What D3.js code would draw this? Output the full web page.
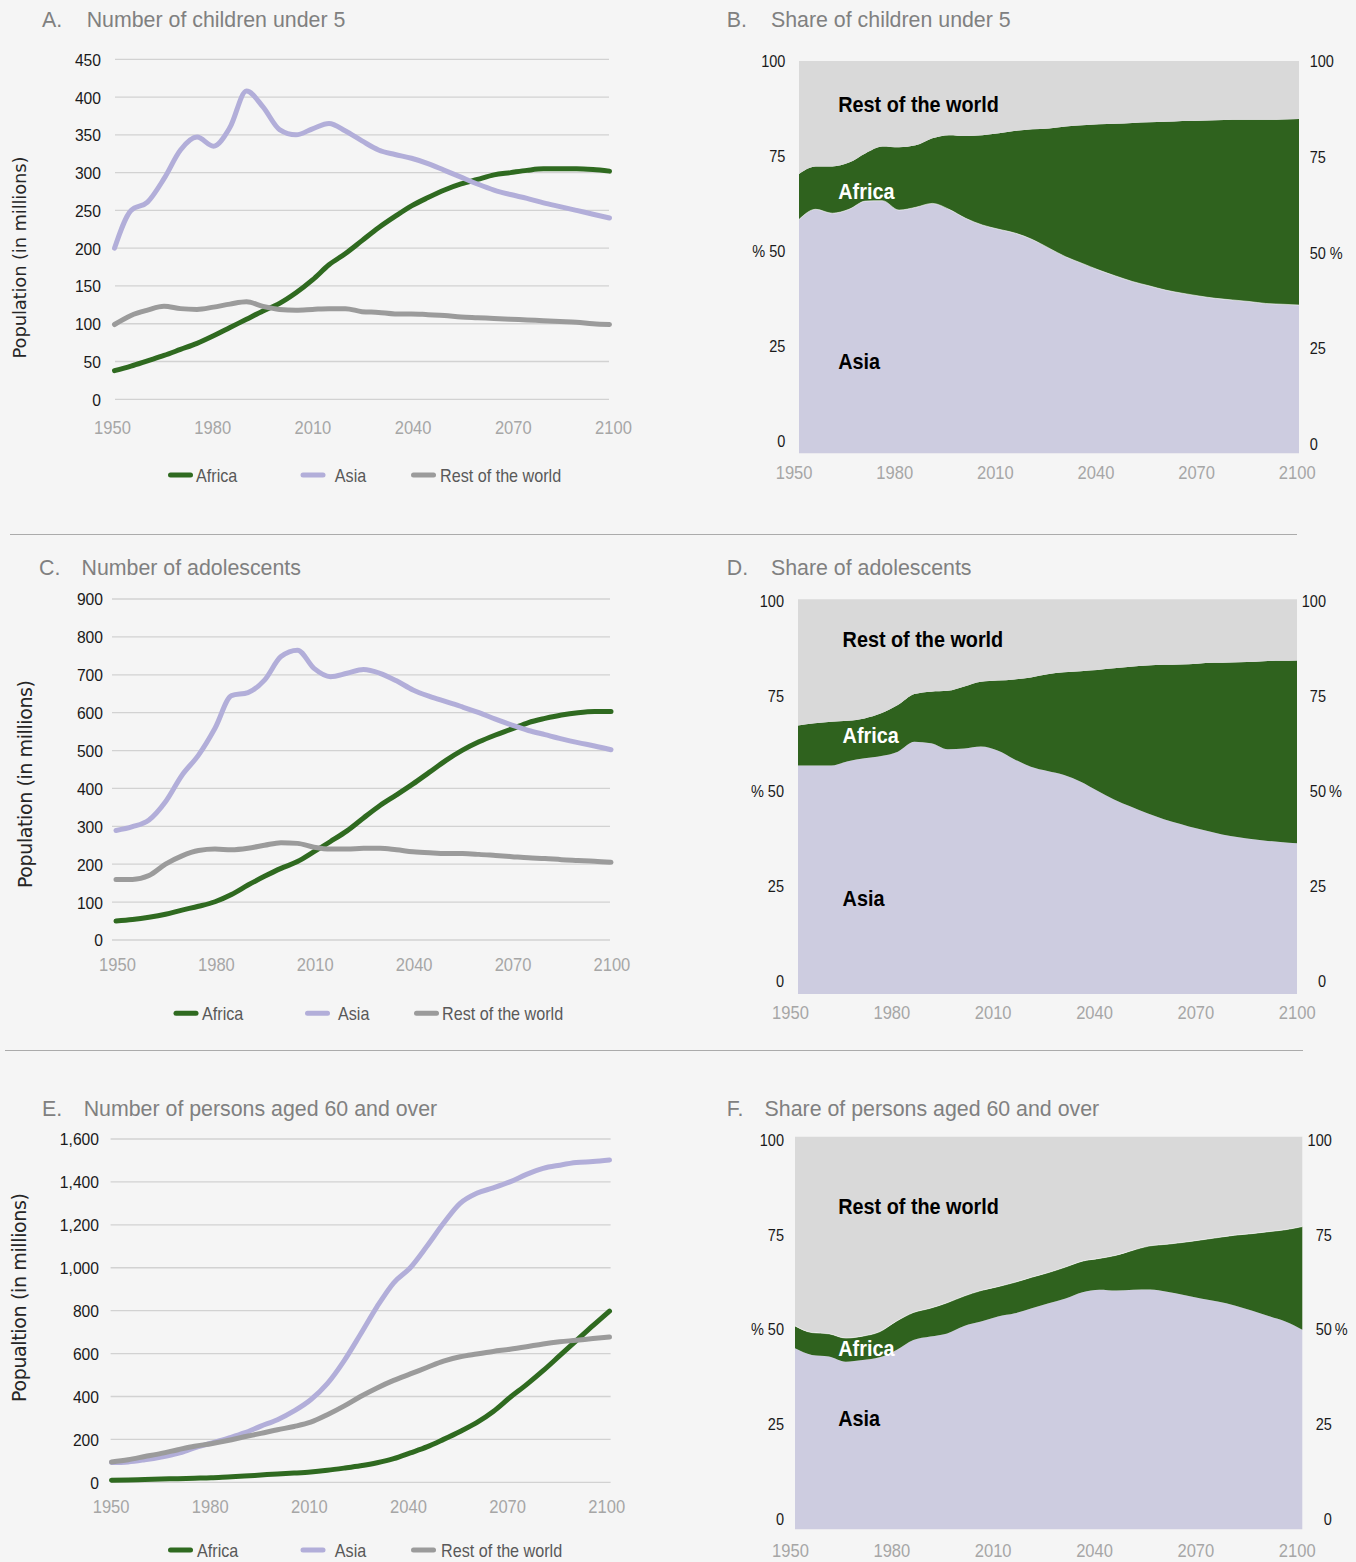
<!DOCTYPE html>
<html><head><meta charset="utf-8">
<script src="https://cdn.jsdelivr.net/npm/d3@7"></script>
<style>
html,body{margin:0;padding:0;background:#f5f5f5;}
svg{display:block;}
</style></head><body>
<svg id="c" width="1356" height="1562"></svg>
<script>
// ---------- DATA ----------
const years = [1950,1955,1960,1965,1970,1975,1980,1985,1990,1995,2000,2005,2010,2015,2020,2025,2030,2035,2040,2045,2050,2055,2060,2065,2070,2075,2080,2085,2090,2095,2100];
const tickYears = [1950,1980,2010,2040,2070,2100];
const seriesNames = ["Africa","Asia","Rest of the world"];

// A. Number of children under 5 (millions)
const childrenAfrica = [38,44,51,58,66,74,84,95,106,117,127,141,158,178,193,210,227,242,256,267,277,285,291,297,300,303,305,305,305,304,302];
const childrenAsia   = [200,250,261,292,330,347,335,360,408,387,357,350,358,365,355,342,330,324,319,312,303,294,285,277,271,266,260,255,250,245,240];
const childrenRest   = [99,111,118,123,120,119,122,126,129,123,119,118,119,120,120,116,115,113,113,112,111,109,108,107,106,105,104,103,102,100,99];
const childrenTicks  = [0,50,100,150,200,250,300,350,400,450];

// B. Share of children under 5 (%)
const childrenShareAsia   = [59.6,62.2,61.2,62.2,64.3,64.4,62.0,62.7,63.7,62.2,59.9,58.2,57.1,56.1,54.5,52.3,50.1,48.4,46.7,45.2,43.8,42.7,41.6,40.8,40.1,39.5,39.1,38.7,38.2,38.0,37.8];
const childrenShareAfrica = [11.6,10.9,11.9,11.9,12.2,13.8,16.0,15.8,16.6,18.9,21.0,22.9,24.5,26.1,28.1,30.5,33.2,35.2,37.2,38.8,40.4,41.7,42.9,43.9,44.7,45.4,45.9,46.3,46.8,47.1,47.4];

// C. Number of adolescents (millions)
const adolAfrica = [50,54,60,68,79,89,101,120,145,168,189,207,233,260,288,322,355,383,412,443,474,501,523,541,557,574,585,594,600,603,603];
const adolAsia   = [289,299,317,365,435,488,559,645,653,686,748,765,717,695,704,714,704,684,660,643,629,615,600,583,567,553,542,531,521,512,502];
const adolRest   = [160,160,170,200,222,236,240,238,242,250,257,255,245,240,240,242,242,238,233,230,228,228,226,223,220,217,215,212,210,208,205];
const adolTicks  = [0,100,200,300,400,500,600,700,800,900];

// D. Share of adolescents (%)
const adolShareAsia   = [57.9,57.9,57.9,59.0,59.7,60.3,61.4,63.9,63.5,62.0,62.2,62.7,61.7,59.5,57.6,56.5,55.5,53.8,51.5,49.3,47.5,45.8,44.3,43.1,41.9,40.9,40.0,39.4,38.9,38.5,38.2];
const adolShareAfrica = [10.1,10.7,11.1,10.2,10.1,10.8,11.8,12.1,13.1,14.8,15.7,16.4,17.7,20.2,22.6,24.5,26.0,28.0,30.6,33.2,35.4,37.4,39.1,40.4,41.8,43.0,44.0,44.7,45.4,45.9,46.3];

// E. Number of persons aged 60 and over (millions)
const olderAfrica = [10,11,13,15,17,19,21,25,29,34,39,43,48,56,66,77,91,110,137,165,200,237,278,330,395,455,520,590,660,730,798];
const olderAsia   = [92,95,105,118,135,160,182,205,230,262,292,333,385,460,565,690,819,930,1000,1100,1207,1300,1347,1372,1400,1435,1463,1478,1490,1495,1502];
const olderRest   = [95,105,120,135,152,168,180,195,212,228,245,260,280,315,355,400,440,475,505,535,565,585,598,610,620,632,645,655,662,670,677];
const olderTicks  = [0,200,400,600,800,1000,1200,1400,1600];

// F. Share of persons aged 60 and over (%)
const olderShareAsia   = [46.1,44.4,44.0,42.7,43.1,43.8,45.7,48.2,49.1,49.9,51.8,52.9,54.2,55.0,56.3,57.6,58.8,60.4,61.0,60.8,61.0,61.1,60.5,59.7,58.8,58.0,57.0,55.7,54.3,52.9,50.8];
const olderShareAfrica = [5.7,5.7,5.8,6.0,6.1,6.5,7.3,7.0,7.2,7.8,7.6,7.9,7.6,7.9,7.9,7.8,8.0,7.9,8.0,9.0,10.1,11.1,12.1,13.4,14.9,16.3,17.9,19.6,21.5,23.4,26.3];

const shareTicks = [0,25,50,75,100];

// ---------- STYLE ----------
const LINE_COLORS = {"Africa":"#2f6a20","Asia":"#b2aed9","Rest of the world":"#9b9b9b"};
const AREA_COLORS = {"Asia":"#cdcce0","Africa":"#2f621e","Rest":"#d9d9d9"};
const FONT = "'Liberation Sans', Arial, Helvetica, sans-serif";
const svg = d3.select('#c');
svg.append('rect').attr('width',1356).attr('height',1562).attr('fill','#f5f5f5');

function squeeze(sel,k){
  sel.each(function(){
    const w=this.getComputedTextLength();
    if(w>0) d3.select(this).attr('textLength',w*k).attr('lengthAdjust','spacingAndGlyphs');
  });
}
function title(letter,text,xL,xT,y){
  const g=svg.append('g').attr('font-family',FONT).attr('font-size',22).attr('fill','#808080');
  g.append('text').attr('x',xL).attr('y',y).attr('dy','0.35em').text(letter);
  g.append('text').attr('x',xT).attr('y',y).attr('dy','0.35em').text(text);
  squeeze(g.selectAll('text'),0.97);
}

function linePanel(c){
  const x=d3.scaleLinear().domain([1950,2100]).range(c.xr);
  const y=d3.scaleLinear().domain([0,c.max]).range(c.yr);
  const g=svg.append('g');
  g.selectAll('line.grid').data(c.ticks).join('line').attr('class','grid')
    .attr('x1',c.gx[0]).attr('x2',c.gx[1]).attr('y1',d=>y(d)).attr('y2',d=>y(d))
    .attr('stroke','#d2d2d2').attr('stroke-width',1.3);
  const ya=g.append('g').attr('transform',`translate(${c.ylx},0)`)
    .call(d3.axisLeft(y).tickValues(c.ticks).tickSize(0).tickPadding(0).tickFormat(c.fmt));
  ya.select('.domain').remove();
  ya.selectAll('text').attr('font-family',FONT).attr('font-size',17).attr('fill','#1a1a1a').attr('dy','0.35em');
  squeeze(ya.selectAll('text'),0.92);
  const xl=d3.scaleLinear().domain([1950,2100]).range(c.xlr);
  const xa=g.append('g').attr('transform',`translate(0,${c.xly})`)
    .call(d3.axisBottom(xl).tickValues(tickYears).tickSize(0).tickPadding(0).tickFormat(d3.format('d')));
  xa.select('.domain').remove();
  xa.selectAll('text').attr('font-family',FONT).attr('font-size',19).attr('fill','#a6a6a6').attr('y',0).attr('dy','0.35em');
  squeeze(xa.selectAll('text'),0.87);
  const line=d3.line().x((d,i)=>x(years[i])).y(d=>y(d)).curve(d3.curveMonotoneX);
  c.series.forEach((s,i)=>{
    g.append('path').attr('d',line(s)).attr('fill','none').attr('stroke',LINE_COLORS[seriesNames[i]])
      .attr('stroke-width',5).attr('stroke-linecap','round').attr('stroke-linejoin','round');
  });
  g.append('text').attr('transform',`translate(${c.yt[0]},${c.yt[1]}) rotate(-90)`)
    .attr('text-anchor','middle').attr('dy','0.35em').attr('font-family',"'DejaVu Sans', sans-serif")
    .attr('font-size',c.ytSize).attr('fill','#262626').attr('textLength',c.ytLen).attr('lengthAdjust','spacing')
    .text(c.ytText);
  const lg=g.append('g');
  seriesNames.forEach((n,i)=>{
    lg.append('line').attr('x1',c.sw[i]+2.5).attr('x2',c.sw[i]+22.5).attr('y1',c.ly).attr('y2',c.ly)
      .attr('stroke',LINE_COLORS[n]).attr('stroke-width',5).attr('stroke-linecap','round');
    lg.append('text').attr('x',c.tx[i]).attr('y',c.ly).attr('dy','0.35em').attr('font-family',FONT)
      .attr('font-size',19).attr('fill','#595959').text(n);
  });
  squeeze(lg.selectAll('text'),0.85);
}

function sharePanel(c){
  const x=d3.scaleLinear().domain([1950,2100]).range([c.rx0,c.rx1]);
  const y=d3.scaleLinear().domain([0,100]).range([c.ry1,c.ry0]);
  const g=svg.append('g');
  const rows=years.map((yr,i)=>({year:yr,Asia:c.asia[i],Africa:c.africa[i],Rest:100-c.asia[i]-c.africa[i]}));
  const stack=d3.stack().keys(['Asia','Africa','Rest'])(rows);
  const area=d3.area().x(d=>x(d.data.year)).y0(d=>y(d[0])).y1(d=>y(d[1])).curve(d3.curveMonotoneX);
  g.selectAll('path.a').data(stack).join('path').attr('class','a').attr('d',area).attr('fill',d=>AREA_COLORS[d.key]);
  if(c.edge!==undefined){
    const edge=d3.line().x(d=>x(d.data.year)).y(d=>y(d[1])).curve(d3.curveMonotoneX);
    g.append('path').attr('d',edge(stack[c.edge])).attr('fill','none').attr('stroke','#ffffff')
      .attr('stroke-opacity',0.55).attr('stroke-width',1);
  }
  const ly=d3.scaleLinear().domain([0,100]).range(c.lyr);
  const left=g.append('g').attr('font-family',FONT).attr('font-size',16.5).attr('fill','#1a1a1a');
  left.selectAll('text').data(shareTicks).join('text').attr('x',c.lx).attr('y',d=>ly(d)).attr('dy','0.35em')
    .attr('text-anchor','end').text(d=>d===50?'% 50':d);
  squeeze(left.selectAll('text'),0.88);
  const ry=d3.scaleLinear().domain([0,100]).range(c.ryr);
  const right=g.append('g').attr('font-family',FONT).attr('font-size',16.5).attr('fill','#1a1a1a');
  if(c.rmode==='start'){
    right.selectAll('text').data(shareTicks).join('text').attr('x',c.rx).attr('y',d=>ry(d)).attr('dy','0.35em')
      .attr('text-anchor','start').text(d=>d===50?'50 %':d);
  } else {
    right.selectAll('text.n').data(shareTicks).join('text').attr('class','n').attr('x',c.rx).attr('y',d=>ry(d)).attr('dy','0.35em')
      .attr('text-anchor','end').text(d=>d);
    right.append('text').attr('x',c.rx+3).attr('y',ry(50)).attr('dy','0.35em').text('%');
  }
  squeeze(right.selectAll('text'),0.88);
  const xl=d3.scaleLinear().domain([1950,2100]).range(c.xlr);
  const xa=g.append('g').attr('transform',`translate(0,${c.xly})`)
    .call(d3.axisBottom(xl).tickValues(tickYears).tickSize(0).tickPadding(0).tickFormat(d3.format('d')));
  xa.select('.domain').remove();
  xa.selectAll('text').attr('font-family',FONT).attr('font-size',19).attr('fill','#a6a6a6').attr('y',0).attr('dy','0.35em');
  squeeze(xa.selectAll('text'),0.87);
  const inner=g.append('g').attr('font-family',FONT).attr('font-size',22).attr('font-weight','bold');
  inner.append('text').attr('x',c.ix).attr('y',c.iy[0]).attr('dy','0.35em').attr('fill','#000').text('Rest of the world');
  inner.append('text').attr('x',c.ix).attr('y',c.iy[1]).attr('dy','0.35em').attr('fill','#fff').text('Africa');
  inner.append('text').attr('x',c.ix).attr('y',c.iy[2]).attr('dy','0.35em').attr('fill','#000').text('Asia');
  squeeze(inner.selectAll('text'),0.9);
}

// separators
svg.append('line').attr('x1',10).attr('x2',1297).attr('y1',534.5).attr('y2',534.5).attr('stroke','#ababab').attr('stroke-width',1);
svg.append('line').attr('x1',5).attr('x2',1303).attr('y1',1050.5).attr('y2',1050.5).attr('stroke','#ababab').attr('stroke-width',1);

// Panel A
title('A.','Number of children under 5',42,86.7,19);
linePanel({xr:[114.5,609.5],gx:[115,609],max:450,yr:[399.3,59.3],ticks:childrenTicks,fmt:d3.format('d'),
  ylx:101,xlr:[112,613],xly:427.7,series:[childrenAfrica,childrenAsia,childrenRest],
  yt:[20,257.5],ytSize:18,ytLen:202,ytText:'Population (in millions)',
  ly:475,sw:[168,300.5,411],tx:[196,334.8,440]});

// Panel B
title('B.','Share of children under 5',726.8,771,19);
sharePanel({rx0:799,rx1:1299,ry0:61,ry1:453.3,asia:childrenShareAsia,africa:childrenShareAfrica,edge:0,
  lyr:[441.7,61.7],lx:785.4,ryr:[444.3,61.7],rx:1309.7,rmode:'start',
  xlr:[793.6,1296.7],xly:472.7,ix:838.3,iy:[104,191,361]});

// Panel C
title('C.','Number of adolescents',39,81.5,567.3);
linePanel({xr:[116,611],gx:[112,610],max:900,yr:[940,599],ticks:adolTicks,fmt:d3.format('d'),
  ylx:103,xlr:[117,611.4],xly:964.3,series:[adolAfrica,adolAsia,adolRest],
  yt:[25,784],ytSize:19,ytLen:208,ytText:'Population (in millions)',
  ly:1013.3,sw:[173.5,305,414],tx:[202,338,442]});

// Panel D
title('D.','Share of adolescents',726.8,771,567.3);
sharePanel({rx0:798,rx1:1297,ry0:599.3,ry1:994,asia:adolShareAsia,africa:adolShareAfrica,
  lyr:[981.7,601.7],lx:784,ryr:[981.7,601.7],rx:1326,rmode:'end',
  xlr:[790,1296.7],xly:1012.7,ix:842.6,iy:[639,735,898.3]});

// Panel E
title('E.','Number of persons aged 60 and over',42,83.7,1108.3);
linePanel({xr:[111.5,609.5],gx:[110.6,610.6],max:1600,yr:[1482.3,1139],ticks:olderTicks,fmt:d3.format(','),
  ylx:99,xlr:[110.6,606.2],xly:1506,series:[olderAfrica,olderAsia,olderRest],
  yt:[19.5,1297.5],ytSize:19,ytLen:209,ytText:'Popualtion (in millions)',
  ly:1550,sw:[168,300.5,411],tx:[197,334.8,441]});

// Panel F
title('F.','Share of persons aged 60 and over',726.8,764.6,1108.3);
sharePanel({rx0:795,rx1:1302.3,ry0:1136.7,ry1:1529.3,asia:olderShareAsia,africa:olderShareAfrica,edge:1,
  lyr:[1519.3,1140],lx:784,ryr:[1519.3,1140],rx:1331.8,rmode:'end',
  xlr:[790,1296.7],xly:1550,ix:838.3,iy:[1206.7,1348.3,1418.3]});
</script>
</body></html>
